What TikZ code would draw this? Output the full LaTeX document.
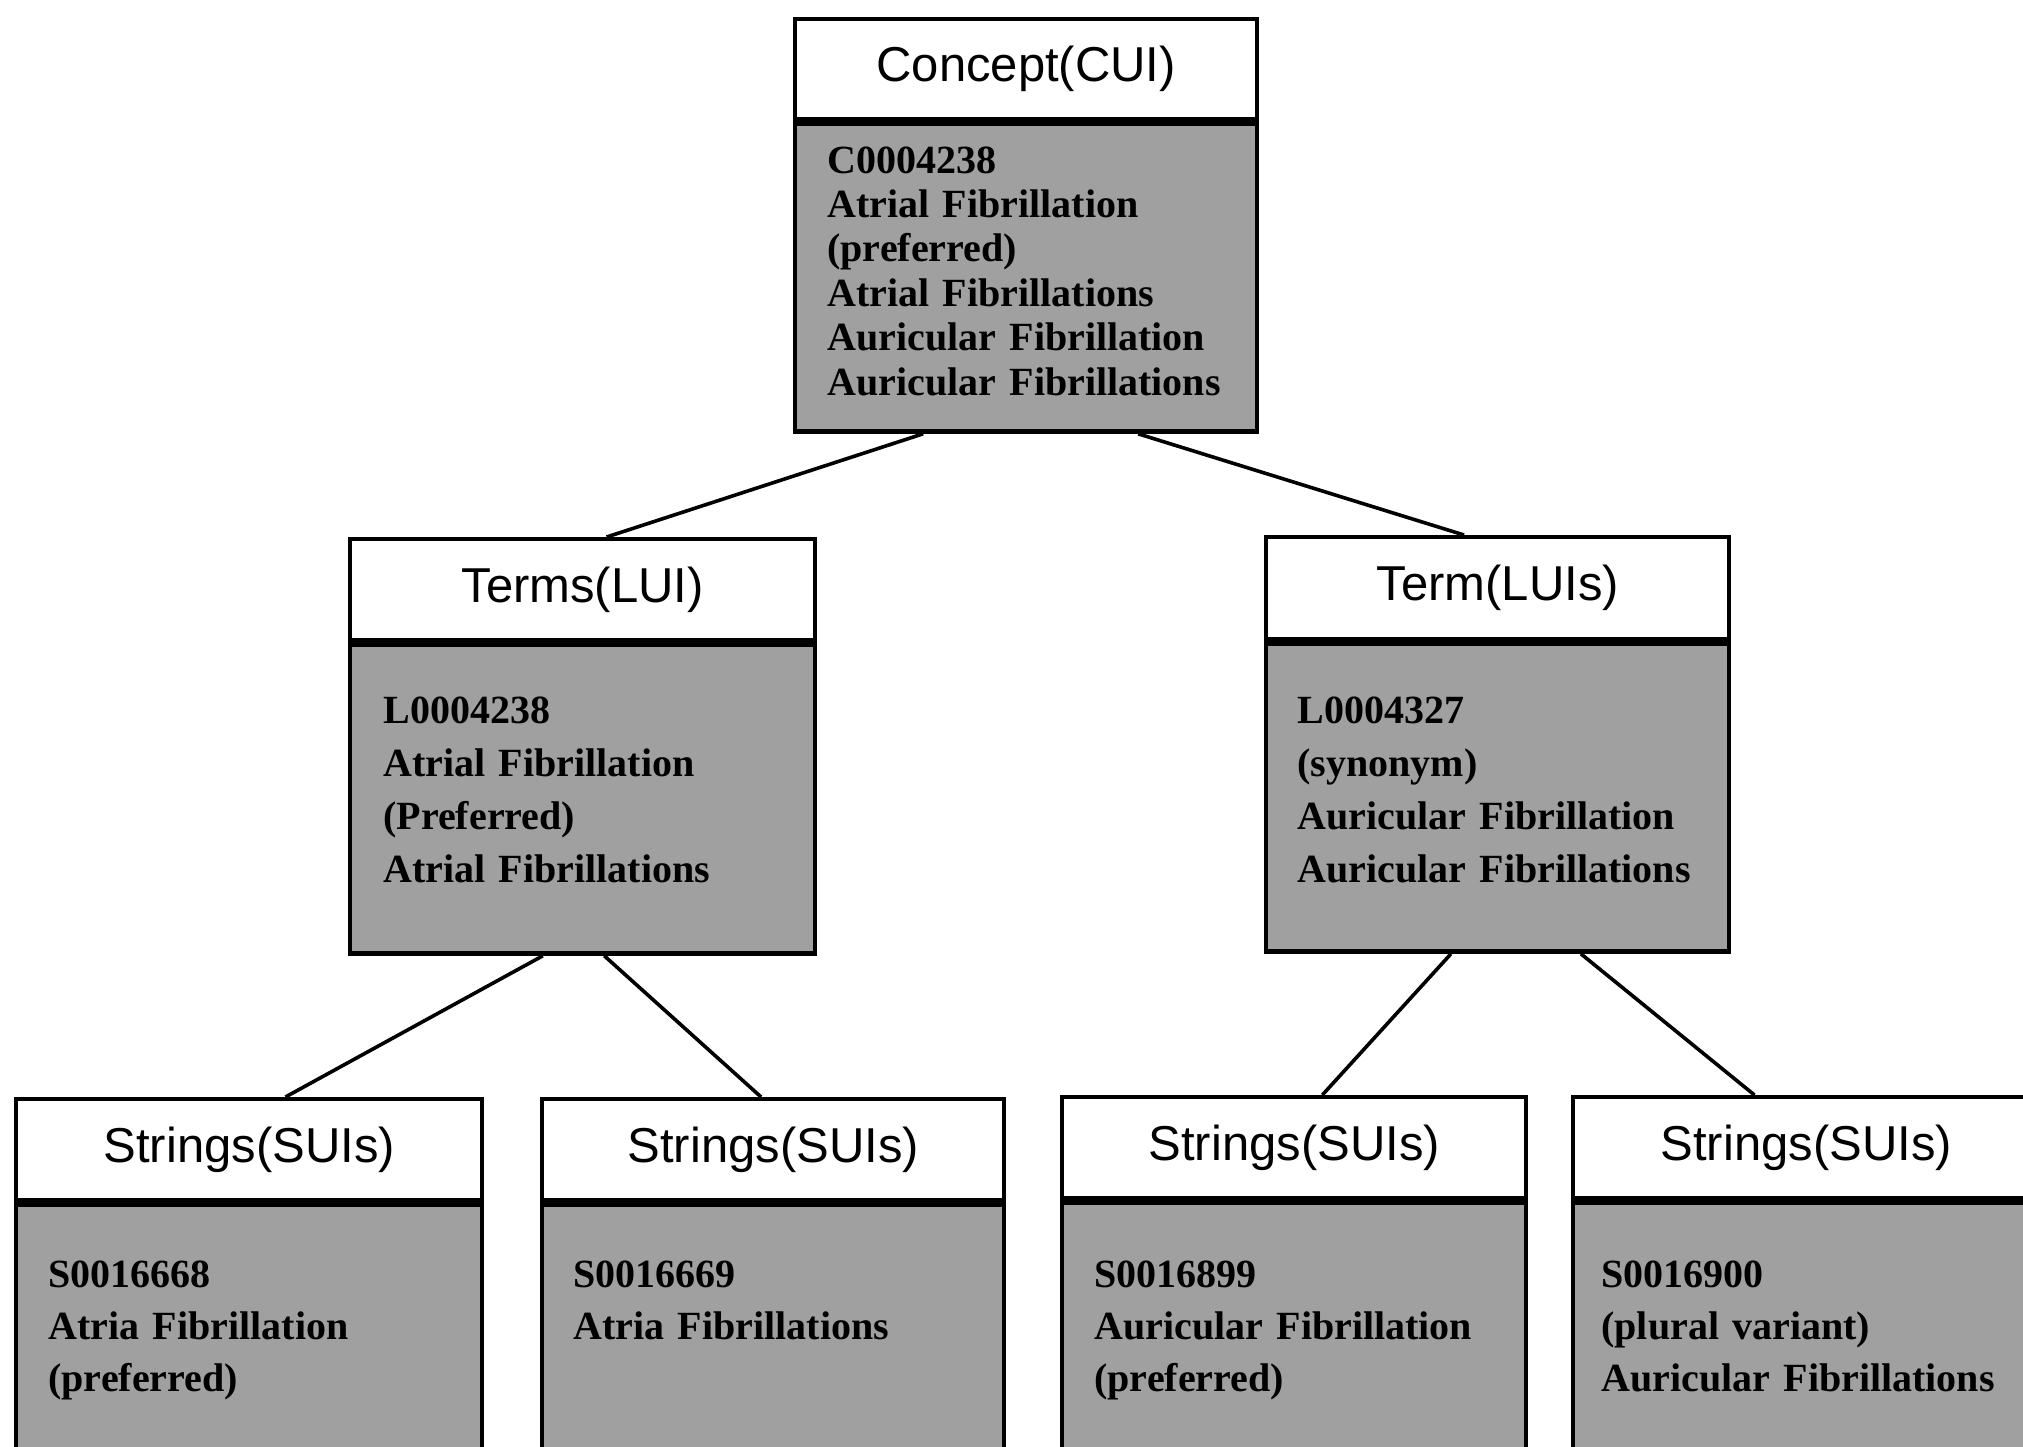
\documentclass[tikz,border=0pt]{standalone}
\usepackage{fontspec}
\setmainfont{Liberation Serif}
\setsansfont{Liberation Sans}
\usetikzlibrary{calc}
\definecolor{halftone}{RGB}{160,160,160}
\tikzset{
  hdr/.style={draw, line width=2.2pt, fill=white, anchor=north west, inner sep=0pt,
    minimum height=50.5pt, font=\sffamily\fontsize{24.5}{28}\selectfont},
  bodybox/.style={draw, line width=2.2pt, fill=halftone, anchor=north, inner sep=0pt},
  bodytext/.style={anchor=north west, inner sep=0pt, align=left, text width=212pt,
    font=\bfseries\fontsize{20}{26.5}\selectfont},
  link/.style={line width=1.8pt},
}
\begin{document}
\begin{tikzpicture}[x=0.5pt,y=-0.5pt]
\useasboundingbox (0,0) rectangle (2023,1446);
\fill[white] (0,0) rectangle (2023,1446);
\clip (0,0) rectangle (2023,1446);

% Concept
\node[hdr, minimum width=231pt, minimum height=50pt] (ch) at (793,17) {Concept(CUI)};
\node[bodybox, minimum width=231pt, minimum height=154pt] (cb) at (ch.south) {};
\node[bodytext, font=\bfseries\fontsize{20}{22.2}\selectfont] (ct) at (827,146)
  {C0004238\\Atrial Fibrillation\\(preferred)\\Atrial Fibrillations\\Auricular Fibrillation\\Auricular Fibrillations};

% Terms (LUI)
\node[hdr, minimum width=232.5pt] (th) at (348,537) {Terms(LUI)};
\node[bodybox, minimum width=232.5pt, minimum height=154.5pt] (tb) at (th.south) {};
\node[bodytext] (tt) at (383,696)
  {L0004238\\Atrial Fibrillation\\(Preferred)\\Atrial Fibrillations};

% Term (LUIs)
\node[hdr, minimum width=231.5pt, minimum height=51pt] (uh) at (1264,535) {Term(LUIs)};
\node[bodybox, minimum width=231.5pt, minimum height=154pt] (ub) at (uh.south) {};
\node[bodytext] (ut) at (1297,696)
  {L0004327\\(synonym)\\Auricular Fibrillation\\Auricular Fibrillations};

% Strings
\node[hdr, minimum width=233pt] (sah) at (14,1097) {Strings(SUIs)};
\node[bodybox, minimum width=233pt, minimum height=200pt] (sab) at (sah.south) {};
\node[bodytext, font=\bfseries\fontsize{20}{26}\selectfont] (sat) at (48,1260)
  {S0016668\\Atria Fibrillation\\(preferred)};

\node[hdr, minimum width=231pt] (sbh) at (540,1097) {Strings(SUIs)};
\node[bodybox, minimum width=231pt, minimum height=200pt] (sbb) at (sbh.south) {};
\node[bodytext, font=\bfseries\fontsize{20}{26}\selectfont] (sbt) at (573,1260)
  {S0016669\\Atria Fibrillations};

\node[hdr, minimum width=232pt] (sch) at (1060,1095) {Strings(SUIs)};
\node[bodybox, minimum width=232pt, minimum height=200pt] (scb) at (sch.south) {};
\node[bodytext, font=\bfseries\fontsize{20}{26}\selectfont] (sct) at (1094,1260)
  {S0016899\\Auricular Fibrillation\\(preferred)};

\node[hdr, minimum width=233pt] (sdh) at (1571,1095) {Strings(SUIs)};
\node[bodybox, minimum width=233pt, minimum height=200pt] (sdb) at (sdh.south) {};
\node[bodytext, font=\bfseries\fontsize{20}{26}\selectfont] (sdt) at (1601,1260)
  {S0016900\\(plural variant)\\Auricular Fibrillations};

% connectors
\draw[link] ($(cb.south west)!0.279!(cb.south east)$) -- ($(th.north west)!0.551!(th.north east)$);
\draw[link] ($(cb.south west)!0.740!(cb.south east)$) -- ($(uh.north west)!0.428!(uh.north east)$);
\draw[link] ($(tb.south west)!0.415!(tb.south east)$) -- ($(sah.north west)!0.577!(sah.north east)$);
\draw[link] ($(tb.south west)!0.546!(tb.south east)$) -- ($(sbh.north west)!0.474!(sbh.north east)$);
\draw[link] ($(ub.south west)!0.400!(ub.south east)$) -- ($(sch.north west)!0.560!(sch.north east)$);
\draw[link] ($(ub.south west)!0.678!(ub.south east)$) -- ($(sdh.north west)!0.390!(sdh.north east)$);
\end{tikzpicture}
\end{document}
